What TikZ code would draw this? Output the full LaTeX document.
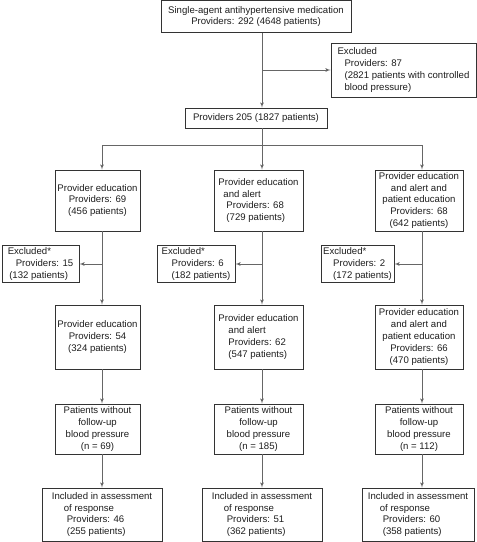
\documentclass[tikz,border=0pt]{standalone}
\usepackage{fontspec}
\setmainfont{Liberation Sans}
\usepackage{tikz}
\usetikzlibrary{shapes, arrows}
\definecolor{boxline}{HTML}{333333}
\definecolor{arrowline}{HTML}{666666}
\definecolor{boxtext}{HTML}{1E1E1E}
\tikzstyle{process} = [rectangle, draw=boxline, line width=0.8pt, fill=white, text=boxtext, inner sep=2pt, font=\fontsize{9.6}{11.9}\selectfont, align=center]
\tikzstyle{lefttext} = [align=left]
\tikzstyle{line} = [draw=arrowline, line width=0.8pt, -latex']

\begin{document}
\begin{tikzpicture}[node distance=80pt, auto]
            \useasboundingbox (0pt,0pt) rectangle (477pt,-542pt);

            % Top of flowchart
            \node (start) [process, minimum width=190pt, minimum height=32pt] at (256pt,-16.5pt) {Single-agent antihypertensive medication\\Providers: 292 (4648 patients)};
            \node (excl) [process, lefttext, minimum width=145pt, minimum height=54pt, below of=start, xshift=147.5pt, yshift=26.5pt] {Excluded\\\hspace*{7pt}Providers: 87\\\hspace*{7pt}(2821 patients with controlled\\\hspace*{7pt}blood pressure)};
            \node (prov) [process, minimum width=142pt, minimum height=20pt, below of=start, yshift=-21.5pt] {Providers 205 (1827 patients)};

            % Groups
            \node (edu_2) [process, lefttext, minimum width=89pt, minimum height=61pt, below of=prov, xshift=2.5pt, yshift=-2.5pt] {Provider education\\\hspace*{5pt}and alert\\\hspace*{8pt}Providers: 68\\\hspace*{8pt}(729 patients)};
            \node (edu_1) [process, minimum width=85pt, minimum height=61pt, left of=edu_2, xshift=-81pt] {Provider education\\Providers: 69\\(456 patients)};
            \node (edu_3) [process, minimum width=88pt, minimum height=61pt, right of=edu_2, xshift=80.5pt] {Provider education\\and alert and\\patient education\\Providers: 68\\(642 patients)};

            % Excluded per group
            \node (exc_1) [process, lefttext, minimum width=77pt, minimum height=36pt, below of=edu_1, xshift=-57pt, yshift=16.5pt] {Excluded*\\\hspace*{8pt}Providers: 15\\\hspace*{1.5pt}(132 patients)};
            \node (exc_2) [process, lefttext, minimum width=78pt, minimum height=36pt, below of=edu_2, xshift=-62.5pt, yshift=16.5pt] {Excluded*\\\hspace*{10pt}Providers: 6\\\hspace*{10pt}(182 patients)};
            \node (exc_3) [process, lefttext, minimum width=73pt, minimum height=36pt, below of=edu_3, xshift=-61.5pt, yshift=16.5pt] {Excluded*\\\hspace*{10pt}Providers: 2\\\hspace*{10pt}(172 patients)};

            % Remaining per group
            \node (fin_1) [process, minimum width=85pt, minimum height=64pt, below of=edu_1, yshift=-56.5pt] {Provider education\\Providers: 54\\(324 patients)};
            \node (fin_2) [process, lefttext, minimum width=89pt, minimum height=64pt, below of=edu_2, yshift=-56.5pt] {Provider education\\\hspace*{10pt}and alert\\\hspace*{10pt}Providers: 62\\\hspace*{10pt}(547 patients)};
            \node (fin_3) [process, minimum width=88pt, minimum height=64pt, below of=edu_3, yshift=-56.5pt] {Provider education\\and alert and\\patient education\\Providers: 66\\(470 patients)};

            % No follow-up
            \node (nofu_1) [process, minimum width=85pt, minimum height=50pt, below of=fin_1, yshift=-12pt] {Patients without\\follow-up\\blood pressure\\(n = 69)};
            \node (nofu_2) [process, minimum width=89pt, minimum height=50pt, below of=fin_2, yshift=-12pt] {Patients without\\follow-up\\blood pressure\\(n = 185)};
            \node (nofu_3) [process, minimum width=88pt, minimum height=50pt, below of=fin_3, yshift=-12pt] {Patients without\\follow-up\\blood pressure\\(n = 112)};

            % Included
            \node (inc_1) [process, lefttext, minimum width=120pt, minimum height=53pt, below of=nofu_1, xshift=4.5pt, yshift=-5.5pt] {Included in assessment\\\hspace*{12pt}of response\\\hspace*{15pt}Providers: 46\\\hspace*{15pt}(255 patients)};
            \node (inc_2) [process, lefttext, minimum width=120pt, minimum height=53pt, below of=nofu_2, xshift=3.5pt, yshift=-5.5pt] {Included in assessment\\\hspace*{12pt}of response\\\hspace*{15pt}Providers: 51\\\hspace*{15pt}(362 patients)};
            \node (inc_3) [process, lefttext, minimum width=112pt, minimum height=53pt, below of=nofu_3, xshift=-1pt, yshift=-5.5pt] {Included in assessment\\\hspace*{12pt}of response\\\hspace*{15pt}Providers: 60\\\hspace*{15pt}(358 patients)};

            % Trunk points
            \coordinate (top) at ([xshift=6pt]start.south);
            \coordinate (split) at ([xshift=6pt, yshift=-17pt]prov.south);
            \coordinate (t_1) at ([xshift=4.5pt]edu_1.south);
            \coordinate (t_2) at ([xshift=3.5pt]edu_2.south);
            \coordinate (t_3) at ([xshift=3pt]edu_3.south);

            % Draw lines
            % Top
            \path [line] (top) -- ([xshift=6pt]prov.north);
            \path [line] (top |- excl.west) -- (excl.west);
            \path [line] ([xshift=6pt]prov.south) -- (t_2 |- edu_2.north);
            \path [line] (split) -| (t_1 |- edu_1.north);
            \path [line] (split) -| (t_3 |- edu_3.north);

            % Groups
            \path [line] (t_1) -- (t_1 |- fin_1.north);
            \path [line] (t_2) -- (t_2 |- fin_2.north);
            \path [line] (t_3) -- (t_3 |- fin_3.north);
            \path [line] (t_1 |- exc_1.east) -- (exc_1.east);
            \path [line] (t_2 |- exc_2.east) -- (exc_2.east);
            \path [line] (t_3 |- exc_3.east) -- (exc_3.east);
            \path [line] (t_1 |- fin_1.south) -- (t_1 |- nofu_1.north);
            \path [line] (t_2 |- fin_2.south) -- (t_2 |- nofu_2.north);
            \path [line] (t_3 |- fin_3.south) -- (t_3 |- nofu_3.north);
            \path [line] (t_1 |- nofu_1.south) -- (inc_1);
            \path [line] (t_2 |- nofu_2.south) -- (inc_2);
            \path [line] (t_3 |- nofu_3.south) -- (t_3 |- inc_3.north);
        \end{tikzpicture}
\end{document}
